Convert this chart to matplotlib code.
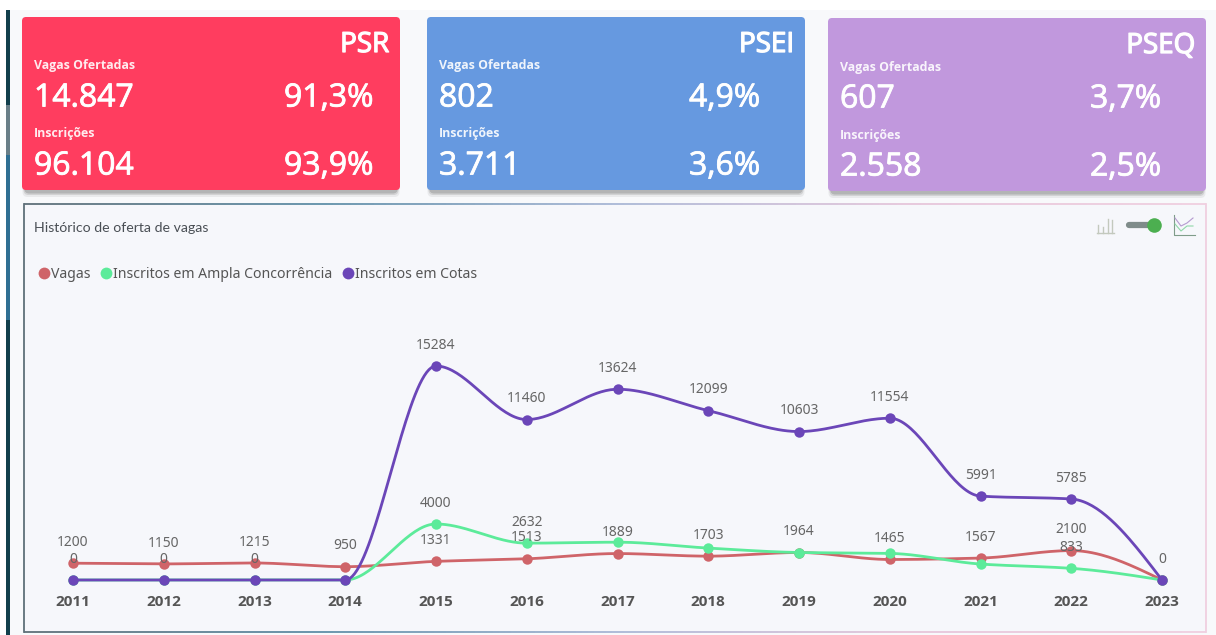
import matplotlib
matplotlib.use('Agg')
import matplotlib.pyplot as plt
import matplotlib.patheffects as pe
from matplotlib.lines import Line2D
from matplotlib.patches import FancyBboxPatch, Rectangle
from matplotlib.collections import LineCollection
from matplotlib.colors import LinearSegmentedColormap
import numpy as np

years = [2011, 2012, 2013, 2014, 2015, 2016, 2017, 2018, 2019, 2020, 2021, 2022, 2023]
vagas = [1200, 1150, 1215, 950, 1331, 1513, 1889, 1703, 1964, 1465, 1567, 2100, 0]
ampla = [0, 0, 0, 0, 4000, 2632, 2700, 2280, 1964, 1900, 1140, 833, 0]
cotas = [0, 0, 0, 0, 15284, 11460, 13624, 12099, 10603, 11554, 5991, 5785, 0]

# only some labels show in the picture, the others are hidden behind
ampla_labels = ['0', '0', '0', None, '4000', '2632', None, None, None, None, None, '833', None]
cotas_labels = [None, None, None, None, '15284', '11460', '13624', '12099', '10603', '11554', '5991', '5785', '0']
vagas_labels = ['1200', '1150', '1215', '950', '1331', '1513', '1889', '1703', '1964', '1465', '1567', '2100', None]

card_names = ['PSR', 'PSEI', 'PSEQ']
card_vagas = ['14.847', '802', '607']
card_vagas_pct = ['91,3%', '4,9%', '3,7%']
card_insc = ['96.104', '3.711', '2.558']
card_insc_pct = ['93,9%', '3,6%', '2,5%']
card_colors = ['#FF3D5F', '#6699E0', '#C198DD']
card_left = [22, 427, 828]
card_top = [17, 17, 18]

RED = '#CF6469'
GREEN = '#5CEB9A'
PURPLE = '#6B46B8'
GREY = '#555555'


def monotone(xs, ys, n=40):
    # monotone cubic, same look as the smooth line of the dashboard
    xs = np.array(xs, float)
    ys = np.array(ys, float)
    s = np.diff(ys) / np.diff(xs)
    m = np.zeros(len(xs))
    for i in range(1, len(xs) - 1):
        if s[i - 1] * s[i] > 0:
            m[i] = 2 * s[i - 1] * s[i] / (s[i - 1] + s[i])
    m[0] = s[0]
    m[-1] = 1.5 * s[-1] - 0.5 * m[-2]
    out_x, out_y = [], []
    for i in range(len(xs) - 1):
        t = np.linspace(0, 1, n)
        h = xs[i + 1] - xs[i]
        out_x.extend(xs[i] + t * h)
        out_y.extend((2*t**3 - 3*t**2 + 1) * ys[i] + (t**3 - 2*t**2 + t) * h * m[i]
                     + (-2*t**3 + 3*t**2) * ys[i + 1] + (t**3 - t**2) * h * m[i + 1])
    return out_x, out_y


W, H = 1216, 635
fig = plt.figure(figsize=(W / 100, H / 100), dpi=100, facecolor='white')

# page layer in pixels, for cards and frame
bg = fig.add_axes([0, 0, 1, 1])
bg.set_xlim(0, W)
bg.set_ylim(H, 0)
bg.axis('off')

bg.add_patch(Rectangle((10, 10), W - 10, H - 10, fc='#F8F9FB', ec='none'))
bg.add_patch(Rectangle((6, 10), 3.5, 95, fc='#123F4C', ec='none'))
bg.add_patch(Rectangle((6, 105), 3.5, 50, fc='#6A7F88', ec='none'))
bg.add_patch(Rectangle((6, 155), 3.5, 165, fc='#2F6F93', ec='none'))
bg.add_patch(Rectangle((6, 320), 3.5, 315, fc='#123F4C', ec='none'))

thick = [pe.withStroke(linewidth=0.6, foreground='white')]
thicker = [pe.withStroke(linewidth=0.9, foreground='white')]

for i, name in enumerate(card_names):
    x0, y0 = card_left[i], card_top[i]
    w, h = 378, 173
    for off, a in [(5, 0.06), (3, 0.10), (1.5, 0.14)]:
        bg.add_patch(FancyBboxPatch((x0 + 3 - off / 2, y0 + 5), w + off - 6, h - 3 + off,
                                    boxstyle='round,pad=0,rounding_size=5', fc='black', ec='none', alpha=a))
    bg.add_patch(FancyBboxPatch((x0, y0), w, h, boxstyle='round,pad=0,rounding_size=4',
                                fc=card_colors[i], ec='none'))
    kw = dict(color='white', family='Open Sans', va='center')
    bg.text(x0 + w - 11, y0 + 28, name, ha='right', fontsize=20, path_effects=thicker, **kw)
    bg.text(x0 + 12, y0 + 49, 'Vagas Ofertadas', fontsize=8.9, fontweight='bold', alpha=0.9, **kw)
    bg.text(x0 + 12, y0 + 81, card_vagas[i], fontsize=23, path_effects=thick, **kw)
    bg.text(x0 + 262, y0 + 81, card_vagas_pct[i], fontsize=23, path_effects=thick, **kw)
    bg.text(x0 + 12, y0 + 117, 'Inscrições', fontsize=8.9, fontweight='bold', alpha=0.9, **kw)
    bg.text(x0 + 12, y0 + 149, card_insc[i], fontsize=23, path_effects=thick, **kw)
    bg.text(x0 + 262, y0 + 149, card_insc_pct[i], fontsize=23, path_effects=thick, **kw)

# chart panel, border runs from grey blue to pink
bg.add_patch(FancyBboxPatch((24, 204), 1182, 428, boxstyle='round,pad=0,rounding_size=4',
                            fc='#F6F7FB', ec='none'))
cmap = LinearSegmentedColormap.from_list('edge', ['#5F7079', '#5F8FA8', '#A9B7D6', '#E6C6DA', '#F0CFE0'])
bx = np.linspace(24, 1206, 200)
for yy in [204, 632]:
    pts = np.column_stack([bx, np.full_like(bx, yy)])
    lc = LineCollection(np.stack([pts[:-1], pts[1:]], axis=1), cmap=cmap, linewidths=1.3)
    lc.set_array(np.linspace(0, 1, 199))
    bg.add_collection(lc)
bg.plot([24, 24], [204, 632], color='#5F7079', lw=1.3)
bg.plot([1206, 1206], [204, 632], color='#F0CFE0', lw=1.3)

bg.text(34, 228, 'Histórico de oferta de vagas', family='Lato', fontsize=10.2, color='#4A4F55', va='center')

# chart type switch, top right
bg.plot([1129, 1155], [225, 225], color='#7F8C8A', lw=4.5, solid_capstyle='round')
bg.plot([1154], [225], 'o', color='#4CAF50', ms=10.5, mec='none')
for bar_x, bar_h in [(1098, 8), (1103, 6), (1108, 14), (1112, 13)]:
    bg.plot([bar_x, bar_x], [233, 233 - bar_h], color='#C3C9BE', lw=1)
bg.plot([1097, 1114], [233, 233], color='#C3C9BE', lw=1)
bg.plot([1174, 1174, 1195], [215, 235, 235], color='#7F9C8A', lw=0.8)
bg.plot([1175, 1181, 1187, 1193], [218, 226, 223, 218], color='#B59AD0', lw=0.8)
bg.plot([1175, 1181, 1187, 1193], [224, 231, 226, 226], color='#8FD8A8', lw=0.8)

# chart axes, x and y follow the pixel scale of the picture
left, right, top, bottom = 30, 1200, 300, 612
ax = fig.add_axes([left / W, 1 - bottom / H, (right - left) / W, (bottom - top) / H])
ax.patch.set_alpha(0)
xscale = (1162 - 73) / 12
yscale = (580 - 366) / 15284
ax.set_xlim(2011 - (73 - left) / xscale, 2023 + (right - 1162) / xscale)
ax.set_ylim(-(bottom - 580) / yscale, (580 - top) / yscale)
for s in ax.spines.values():
    s.set_visible(False)
ax.set_yticks([])
ax.set_xticks(years)
ax.tick_params(axis='x', length=0)
ax.set_xticklabels([str(y) for y in years], family='Open Sans', fontweight='bold', fontsize=11, color=GREY)
ax.xaxis.set_tick_params(pad=-12.5)

for values, labels, color, z in [(vagas, vagas_labels, RED, 3), (ampla, ampla_labels, GREEN, 4),
                                 (cotas, cotas_labels, PURPLE, 5)]:
    cx, cy = monotone(years, values)
    ax.plot(cx, cy, color=color, lw=2, zorder=z, solid_capstyle='round')
    ax.plot(years, values, 'o', color=color, ms=7.5, mec='none', zorder=z)
    for yr, v, t in zip(years, values, labels):
        if t is not None:
            ax.annotate(t, (yr, v), xytext=(0, 15), textcoords='offset points', ha='center', va='center',
                        family='Noto Sans', fontsize=10, color='#666666', zorder=6)

handles = [Line2D([], [], ls='none', marker='o', ms=8.5, mec='none', color=c) for c in [RED, GREEN, PURPLE]]
fig.legend(handles, ['Vagas', 'Inscritos em Ampla Concorrência', 'Inscritos em Cotas'],
           loc='center left', bbox_to_anchor=(36 / W, 1 - 274 / H), ncol=3, frameon=False,
           prop={'family': 'Noto Sans', 'size': 10.1}, labelcolor='#555555',
           handletextpad=-0.1, columnspacing=0.5, handlelength=1.2, borderaxespad=0, borderpad=0)

fig.savefig('out.png', dpi=100, facecolor='white')
